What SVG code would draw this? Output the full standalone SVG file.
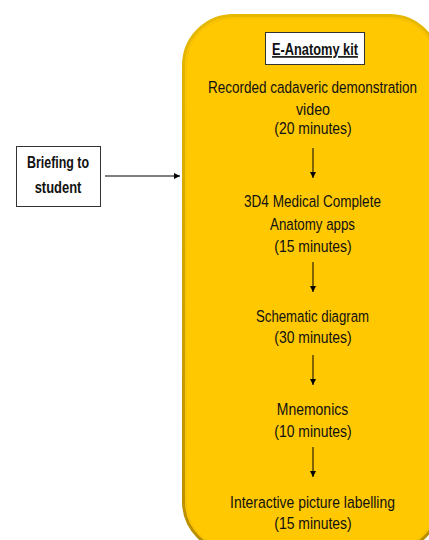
<svg xmlns="http://www.w3.org/2000/svg" width="429" height="540" viewBox="0 0 429 540">
<style>
.t{font-family:"Liberation Sans",Arial,sans-serif;font-size:16.5px;fill:#111;text-anchor:middle}
.b{font-weight:bold}
.c{stroke:#000;stroke-width:1;fill:none}
</style>
<defs>
<marker id="ah" markerWidth="8" markerHeight="8" refX="6" refY="3" orient="auto" markerUnits="userSpaceOnUse">
<path d="M0,0 L6,3 L0,6 Z" fill="#000"/>
</marker>
<linearGradient id="edge" x1="0" y1="0" x2="0" y2="1">
<stop offset="0" stop-color="#E6B800"/>
<stop offset="1" stop-color="#B88E00"/>
</linearGradient>
</defs>
<rect width="429" height="540" fill="#fff"/>
<g id="kit">
<rect x="183.5" y="15.5" width="256" height="536" rx="50" ry="50" fill="#FFC800" stroke="url(#edge)" stroke-width="3"/>
<rect x="186" y="18" width="251" height="531" rx="48" ry="48" fill="none" stroke="#F2BE00" stroke-width="1"/>
</g>
<g id="title">
<rect x="265.5" y="32.5" width="99" height="32" fill="#fff" stroke="#333" stroke-width="1"/>
<text class="t b" transform="translate(315,55) scale(0.85,1)" textLength="101" lengthAdjust="spacingAndGlyphs" text-decoration="underline">E-Anatomy kit</text>
</g>
<g id="briefing">
<rect x="16.5" y="146.5" width="84" height="60" fill="#fff" stroke="#333" stroke-width="1"/>
<text class="t b" transform="translate(58,168) scale(0.85,1)" textLength="73" lengthAdjust="spacingAndGlyphs">Briefing to</text>
<text class="t b" transform="translate(58,193) scale(0.85,1)" textLength="55" lengthAdjust="spacingAndGlyphs">student</text>
</g>
<g id="step1">
<text class="t" transform="translate(312.5,93) scale(0.85,1)" textLength="246" lengthAdjust="spacingAndGlyphs">Recorded cadaveric demonstration</text>
<text class="t" transform="translate(313,115) scale(0.85,1)" textLength="40" lengthAdjust="spacingAndGlyphs">video</text>
<text class="t" transform="translate(313,134) scale(0.85,1)" textLength="91" lengthAdjust="spacingAndGlyphs">(20 minutes)</text>
</g>
<g id="step2">
<text class="t" transform="translate(312.5,207) scale(0.85,1)" textLength="161" lengthAdjust="spacingAndGlyphs">3D4 Medical Complete</text>
<text class="t" transform="translate(312.5,230) scale(0.85,1)" textLength="100" lengthAdjust="spacingAndGlyphs">Anatomy apps</text>
<text class="t" transform="translate(313,252) scale(0.85,1)" textLength="91" lengthAdjust="spacingAndGlyphs">(15 minutes)</text>
</g>
<g id="step3">
<text class="t" transform="translate(312.5,322) scale(0.85,1)" textLength="133" lengthAdjust="spacingAndGlyphs">Schematic diagram</text>
<text class="t" transform="translate(313,343) scale(0.85,1)" textLength="91" lengthAdjust="spacingAndGlyphs">(30 minutes)</text>
</g>
<g id="step4">
<text class="t" transform="translate(312.5,415) scale(0.85,1)" textLength="84" lengthAdjust="spacingAndGlyphs">Mnemonics</text>
<text class="t" transform="translate(313,437) scale(0.85,1)" textLength="91" lengthAdjust="spacingAndGlyphs">(10 minutes)</text>
</g>
<g id="step5">
<text class="t" transform="translate(312.5,508) scale(0.85,1)" textLength="194" lengthAdjust="spacingAndGlyphs">Interactive picture labelling</text>
<text class="t" transform="translate(313,529) scale(0.85,1)" textLength="91" lengthAdjust="spacingAndGlyphs">(15 minutes)</text>
</g>
<g id="connectors">
<line class="c" x1="105" y1="176" x2="180" y2="176" marker-end="url(#ah)"/>
<line class="c" x1="313" y1="148" x2="313" y2="178" marker-end="url(#ah)"/>
<line class="c" x1="313" y1="262" x2="313" y2="292" marker-end="url(#ah)"/>
<line class="c" x1="313" y1="355" x2="313" y2="385" marker-end="url(#ah)"/>
<line class="c" x1="313" y1="447" x2="313" y2="477" marker-end="url(#ah)"/>
</g>
</svg>
